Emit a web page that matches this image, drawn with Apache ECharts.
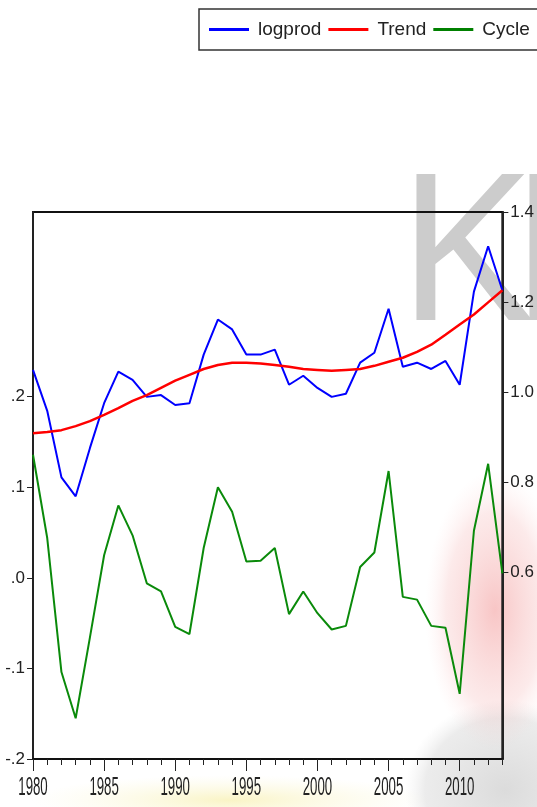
<!DOCTYPE html>
<html>
<head>
<meta charset="utf-8">
<script src="https://cdn.jsdelivr.net/npm/echarts@6/dist/echarts.min.js"></script>
<style>
  html, body { margin: 0; padding: 0; background: #ffffff; }
  #chart { width: 537px; height: 807px; }
</style>
</head>
<body>
<div id="chart"></div>
<script>
// Annual observations, 1980-2013
const years = [1980, 1981, 1982, 1983, 1984, 1985, 1986, 1987, 1988, 1989,
               1990, 1991, 1992, 1993, 1994, 1995, 1996, 1997, 1998, 1999,
               2000, 2001, 2002, 2003, 2004, 2005, 2006, 2007, 2008, 2009,
               2010, 2011, 2012, 2013];

// Log productivity (right axis)
const logprod = [1.049, 0.958, 0.810, 0.768, 0.875, 0.975, 1.045, 1.027, 0.989, 0.993,
                 0.971, 0.975, 1.083, 1.161, 1.139, 1.083, 1.083, 1.094, 1.016, 1.036,
                 1.009, 0.989, 0.996, 1.065, 1.087, 1.185, 1.056, 1.065, 1.051, 1.069,
                 1.016, 1.223, 1.324, 1.226];

// Smooth trend component (right axis)
const trend = [0.908, 0.911, 0.915, 0.924, 0.935, 0.949, 0.964, 0.980, 0.993, 1.009,
               1.025, 1.038, 1.051, 1.060, 1.065, 1.065, 1.063, 1.060, 1.056, 1.051,
               1.049, 1.047, 1.049, 1.051, 1.058, 1.067, 1.076, 1.089, 1.105, 1.127,
               1.150, 1.172, 1.199, 1.226];

// Cyclical component (left axis)
const cycle = [0.136, 0.044, -0.104, -0.155, -0.066, 0.025, 0.080, 0.047, -0.006, -0.015,
               -0.054, -0.062, 0.033, 0.100, 0.073, 0.018, 0.019, 0.033, -0.040, -0.015,
               -0.039, -0.057, -0.053, 0.012, 0.028, 0.118, -0.021, -0.024, -0.053, -0.055,
               -0.128, 0.052, 0.126, 0.005];

// Tick positions
const xMajorTicks = [1980, 1985, 1990, 1995, 2000, 2005, 2010];
const leftTicks = [-0.2, -0.1, 0.0, 0.1, 0.2];
const rightTicks = [0.6, 0.8, 1.0, 1.2, 1.4];

const FONT = "'Liberation Sans', Arial, sans-serif";
const INK = '#222222';

const pairs = arr => years.map((y, i) => [y, arr[i]]);

const fmtLeft = v => {
  const s = Math.abs(v).toFixed(1).replace(/^0/, '');
  return (v < -1e-9 ? '-' : '') + s;
};

const chart = echarts.init(document.getElementById('chart'), null, { renderer: 'canvas' });

// Faint background emblem and lettering
const backdrop = [
  {
    type: 'text', z: -10, silent: true,
    x: 400, y: 156, scaleX: 0.95,
    style: { text: 'K', font: '212px ' + FONT, fill: '#cccccc',
             align: 'left', verticalAlign: 'top' }
  },
  {
    type: 'text', z: -10, silent: true,
    x: 513, y: 156, scaleX: 0.95,
    style: { text: 'N', font: '212px ' + FONT, fill: '#cccccc',
             align: 'left', verticalAlign: 'top' }
  },
  {
    type: 'circle', z: -10, silent: true,
    shape: { cx: 0, cy: 0, r: 100 }, x: 505, y: 790, scaleX: 1.0, scaleY: 0.9,
    style: { fill: { type: 'radial', x: 0.5, y: 0.5, r: 0.5,
      colorStops: [{ offset: 0, color: 'rgba(190,190,190,0.55)' },
                   { offset: 0.8, color: 'rgba(200,200,200,0.35)' },
                   { offset: 1, color: 'rgba(220,220,220,0)' }] } }
  },
  {
    type: 'circle', z: -10, silent: true,
    shape: { cx: 0, cy: 0, r: 100 }, x: 495, y: 610, scaleX: 0.7, scaleY: 1.4,
    style: { fill: { type: 'radial', x: 0.5, y: 0.5, r: 0.5,
      colorStops: [{ offset: 0, color: 'rgba(235,90,90,0.35)' },
                   { offset: 0.7, color: 'rgba(240,140,140,0.18)' },
                   { offset: 1, color: 'rgba(255,200,200,0)' }] } }
  },
  {
    type: 'circle', z: -10, silent: true,
    shape: { cx: 0, cy: 0, r: 100 }, x: 230, y: 800, scaleX: 2.0, scaleY: 0.25,
    style: { fill: { type: 'radial', x: 0.5, y: 0.5, r: 0.5,
      colorStops: [{ offset: 0, color: 'rgba(245,235,150,0.55)' },
                   { offset: 1, color: 'rgba(250,245,200,0)' }] } }
  }
];

chart.setOption({
  animation: false,
  backgroundColor: '#ffffff',
  legend: {
    left: 199, top: 9, width: 420,
    padding: [11, 10, 11, 10],
    itemGap: 7,
    itemWidth: 40, itemHeight: 3,
    icon: 'rect',
    borderColor: '#333333', borderWidth: 1.5,
    textStyle: { fontFamily: FONT, fontSize: 19, color: INK, padding: [0, 0, 0, 4] },
    data: ['logprod', 'Trend', 'Cycle']
  },
  grid: {
    left: 33, right: 32, top: 212, bottom: 48,
    show: true, borderColor: '#111111', borderWidth: 2,
    backgroundColor: 'transparent'
  },
  xAxis: [
    {
      type: 'value', min: 1980, max: 2013, interval: 1, position: 'bottom',
      axisLine: { show: true, onZero: false, lineStyle: { color: '#111111', width: 2 } },
      axisTick: { show: true, inside: false, length: 6, lineStyle: { color: '#222', width: 1 } },
      axisLabel: { show: false },
      splitLine: { show: false }
    },
    {
      type: 'value', min: 1980, max: 2013, position: 'bottom',
      axisLine: { show: false, onZero: false },
      axisTick: { show: true, inside: false, length: 12, customValues: xMajorTicks,
                  lineStyle: { color: '#222', width: 1 } },
      axisLabel: { show: false },
      splitLine: { show: false }
    }
  ],
  yAxis: [
    {
      type: 'value', position: 'left', min: -0.2, max: 0.404,
      axisLine: { show: true, onZero: false, lineStyle: { color: '#222222', width: 2 } },
      axisTick: { show: true, inside: false, length: 6, customValues: leftTicks,
                  lineStyle: { color: '#222', width: 1 } },
      axisLabel: { show: true, customValues: leftTicks, formatter: fmtLeft, margin: 8,
                   fontFamily: FONT, fontSize: 17, color: INK },
      splitLine: { show: false }
    },
    {
      type: 'value', position: 'right', min: 0.184, max: 1.4,
      axisLine: { show: true, onZero: false, lineStyle: { color: '#222222', width: 2 } },
      axisTick: { show: true, inside: false, length: 6, customValues: rightTicks,
                  lineStyle: { color: '#222', width: 1 } },
      axisLabel: { show: true, customValues: rightTicks, formatter: v => v.toFixed(1), margin: 8,
                   fontFamily: FONT, fontSize: 17, color: INK },
      splitLine: { show: false }
    }
  ],
  series: [
    {
      name: 'logprod', type: 'line', xAxisIndex: 0, yAxisIndex: 1,
      data: pairs(logprod), symbol: 'none', color: '#0000ff',
      lineStyle: { color: '#0000ff', width: 2 }, z: 3
    },
    {
      name: 'Trend', type: 'line', xAxisIndex: 0, yAxisIndex: 1,
      data: pairs(trend), symbol: 'none', color: '#ff0000',
      lineStyle: { color: '#ff0000', width: 2.5 }, z: 4
    },
    {
      name: 'Cycle', type: 'line', xAxisIndex: 0, yAxisIndex: 0,
      data: pairs(cycle), symbol: 'none', color: '#008000',
      lineStyle: { color: '#0a8a0a', width: 2 }, z: 3
    }
  ],
  graphic: backdrop
});

// Year labels under the axis, drawn tall and condensed, placed through the axis scales
const baseY = chart.convertToPixel({ yAxisIndex: 0 }, -0.2);
const yearLabels = xMajorTicks.map(yr => ({
  type: 'text', silent: true, z: 10,
  x: chart.convertToPixel({ xAxisIndex: 0 }, yr),
  y: baseY + 29,
  scaleX: 0.53,
  style: { text: String(yr), font: '25px ' + FONT,
           fill: INK, align: 'center', verticalAlign: 'middle' }
}));
chart.setOption({ graphic: backdrop.concat(yearLabels) });
</script>
</body>
</html>
